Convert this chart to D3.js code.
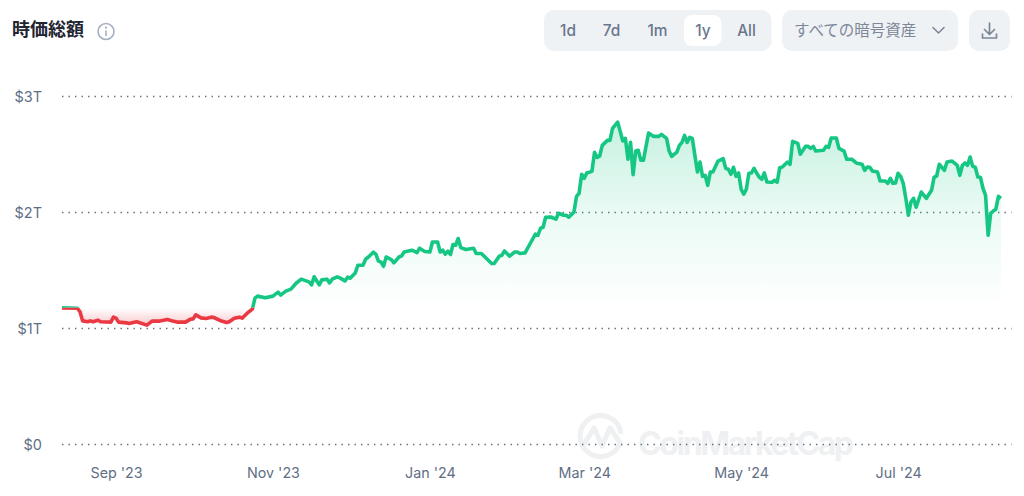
<!DOCTYPE html>
<html>
<head>
<meta charset="utf-8">
<script src="https://cdn.jsdelivr.net/npm/d3@7"></script>
<style>
html, body { margin: 0; padding: 0; background: #fff; overflow: hidden; }
svg { display: block; }
text { font-family: Inter, "Noto Sans CJK JP", sans-serif; }
</style>
</head>
<body>
<svg></svg>
<script>
// days since the first point, market cap in trillions of USD
const startDate = '2023-08-11'
const dayOffsets = [0,6,7,8,10,11,12,14,15,19,20,21,22,25,26,29,33,35,38,41,43,45,48,50,51,52,54,56,58,59,62,64,65,67,69,70,72,74,
	75,76,79,82,84,85,87,89,91,93,96,97,98,100,101,103,104,105,107,108,110,111,112,114,115,117,118,119,121,122,123,124,125,126,128,129,131,132,133,136,138,139,141,143,144,146,147,148,149,150,151,152,153,154,155,157,160,161,163,165,167,168,170,171,172,174,176,177,178,180,182,184,185,186,187,188,190,192,193,195,196,197,199,
	200,201,202,203,204,206,207,208,209,210,212,213,214,216,218,219,220,221,222,223,224,225,226,228,230,232,233,235,236,237,239,240,241,242,243,244,245,247,248,249,250,251,252,253,255,257,258,259,260,261,262,263,264,265,266,267,268,269,270,271,
	272,273,274,276,277,278,279,280,282,283,284,286,287,289,290,291,292,293,296,297,298,299,301,302,304,305,307,309,311,312,313,314,315,317,318,320,321,322,323,324,325,326,327,328,329,330,331,332,334,336,338,339,340,341,343,344,346,348,349,350,351,352,353,354,355,356,357,358,359,360,361,362,363,364,365]
const marketCap = [1.172,1.169,1.138,1.060,1.052,1.060,1.053,1.066,1.052,1.049,1.092,1.083,1.049,1.043,1.038,1.052,1.023,1.058,1.058,1.072,1.058,1.049,1.049,1.075,1.077,1.112,1.086,1.081,1.092,1.089,1.058,1.046,1.052,1.083,1.092,1.083,1.126,1.161,
	1.255,1.273,1.258,1.273,1.307,1.281,1.316,1.333,1.384,1.419,1.396,1.370,1.439,1.370,1.413,1.419,1.387,1.419,1.439,1.430,1.404,1.436,1.427,1.473,1.539,1.539,1.591,1.608,1.651,1.634,1.574,1.567,1.530,1.610,1.588,1.559,1.610,1.619,1.653,1.668,1.648,1.685,1.657,1.653,1.739,1.739,1.653,1.668,1.634,1.660,1.631,1.717,1.711,1.769,1.691,1.674,1.685,1.640,1.640,1.597,1.554,1.554,1.617,1.625,1.662,1.617,1.653,1.653,1.640,1.645,1.726,1.806,1.797,1.857,1.866,1.952,1.954,1.935,1.986,1.969,1.969,1.952,1.997,
	2.132,2.158,2.322,2.287,2.333,2.347,2.511,2.468,2.479,2.571,2.614,2.614,2.717,2.771,2.608,2.631,2.451,2.597,2.319,2.522,2.528,2.442,2.442,2.677,2.648,2.648,2.665,2.631,2.522,2.476,2.513,2.571,2.597,2.657,2.597,2.640,2.631,2.341,2.427,2.304,2.313,2.227,2.341,2.341,2.436,2.457,2.373,2.365,2.322,2.382,2.304,2.333,2.193,2.150,2.193,2.330,2.333,2.373,2.333,2.298,
	2.279,2.333,2.255,2.253,2.270,2.253,2.379,2.384,2.427,2.408,2.605,2.588,2.494,2.562,2.562,2.545,2.562,2.522,2.528,2.562,2.554,2.634,2.634,2.545,2.522,2.451,2.451,2.416,2.408,2.356,2.384,2.382,2.350,2.341,2.264,2.264,2.244,2.287,2.244,2.247,2.330,2.304,2.244,2.115,1.969,2.083,2.115,2.038,2.169,2.115,2.184,2.298,2.307,2.408,2.356,2.427,2.436,2.399,2.313,2.399,2.419,2.399,2.470,2.390,2.382,2.298,2.296,2.201,2.141,1.797,1.986,2.006,2.021,2.132,2.115]

const yTicks = [0, 1, 2, 3]
const yLabels = ['$0', '$1T', '$2T', '$3T']
const xTicks = ['2023-09-01', '2023-11-01', '2024-01-01', '2024-03-01', '2024-05-01', '2024-07-01']
const xLabels = ["Sep '23", "Nov '23", "Jan '24", "Mar '24", "May '24", "Jul '24"]
const ranges = ['1d', '7d', '1m', '1y', 'All']

const width = 1024, height = 496
const green = '#16c784', red = '#ea3943', grey = '#616e85', panel = '#eff2f5'

const day0 = new Date(startDate + 'T00:00:00Z')
const data = dayOffsets.map((d, i) => ({ date: d3.utcDay.offset(day0, d), value: marketCap[i] }))
const baseline = marketCap[0]

const svg = d3.select('svg').attr('width', width).attr('height', height)
const defs = svg.append('defs')

const scX = d3.scaleUtc()
	.domain(d3.extent(data, d => d.date))
	.range([62, 1001])

const scY = d3.scaleLinear()
	.domain([0, 3])
	.range([444, 95.5])

// watermark sits under everything
const mark = svg.append('g').attr('fill', 'none').attr('stroke', '#eef0f2').attr('stroke-width', 5)
mark.append('path')
	.attr('d', 'M620.5 441 A20.5 20.5 0 1 1 621 434')
mark.append('path')
	.attr('d', 'M583 446 L594 428 L602 446 L610 428 L619 441')
	.attr('stroke-linejoin', 'round').attr('stroke-linecap', 'round')
svg.append('text')
	.attr('x', 638).attr('y', 455)
	.attr('font-size', 32).attr('font-weight', 700)
	.attr('fill', '#eef0f2')
	.attr('textLength', 216)
	.text('CoinMarketCap')

// y axis with dotted grid
const yAxis = d3.axisLeft(scY)
	.tickValues(yTicks)
	.tickFormat((d, i) => yLabels[i])
	.tickSize(0)
	.tickPadding(0)

const gy = svg.append('g').attr('transform', 'translate(42,0.5)').call(yAxis)
gy.select('.domain').remove()
gy.selectAll('text')
	.attr('font-size', 14.5).attr('fill', grey).attr('font-family', 'Inter').attr('dy', '0.36em')

svg.append('g').selectAll('line')
	.data(yTicks).enter().append('line')
	.attr('x1', 62).attr('x2', 1011.5)
	.attr('y1', d => Math.round(scY(d)) + 0.5)
	.attr('y2', d => Math.round(scY(d)) + 0.5)
	.attr('stroke', '#626b78')
	.attr('stroke-width', 1.4)
	.attr('stroke-dasharray', '1.4 5.1')

// x axis
const xAxis = d3.axisBottom(scX)
	.tickValues(xTicks.map(d => new Date(d + 'T00:00:00Z')))
	.tickFormat((d, i) => xLabels[i])
	.tickSize(0)
	.tickPadding(0)

const gx = svg.append('g').attr('transform', 'translate(0,468)').call(xAxis)
gx.select('.domain').remove()
gx.selectAll('text')
	.attr('font-size', 14.3).attr('fill', grey).attr('font-family', 'Inter')

// gradients and clips around the baseline (first value)
const topY = scY(d3.max(marketCap)), baseY = scY(baseline), lowY = scY(d3.min(marketCap))

const gradUp = defs.append('linearGradient').attr('id', 'up')
	.attr('gradientUnits', 'userSpaceOnUse')
	.attr('x1', 0).attr('x2', 0).attr('y1', topY).attr('y2', baseY)
gradUp.append('stop').attr('offset', 0).attr('stop-color', green).attr('stop-opacity', 0.24)
gradUp.append('stop').attr('offset', 0.5).attr('stop-color', green).attr('stop-opacity', 0.09)
gradUp.append('stop').attr('offset', 1).attr('stop-color', green).attr('stop-opacity', 0)

const gradDown = defs.append('linearGradient').attr('id', 'down')
	.attr('gradientUnits', 'userSpaceOnUse')
	.attr('x1', 0).attr('x2', 0).attr('y1', lowY).attr('y2', baseY)
gradDown.append('stop').attr('offset', 0).attr('stop-color', red).attr('stop-opacity', 0.27)
gradDown.append('stop').attr('offset', 1).attr('stop-color', red).attr('stop-opacity', 0)

defs.append('clipPath').attr('id', 'above').append('rect')
	.attr('x', 0).attr('y', 0).attr('width', width).attr('height', baseY)
defs.append('clipPath').attr('id', 'below').append('rect')
	.attr('x', 0).attr('y', baseY).attr('width', width).attr('height', height - baseY)

const lineMkr = d3.line().x(d => scX(d.date)).y(d => scY(d.value))
const areaMkr = d3.area().x(d => scX(d.date)).y0(baseY).y1(d => scY(d.value))

svg.append('path').attr('d', areaMkr(data)).attr('fill', 'url(#up)').attr('clip-path', 'url(#above)')
svg.append('path').attr('d', areaMkr(data)).attr('fill', 'url(#down)').attr('clip-path', 'url(#below)')

const sides = [['above', green], ['below', red]]
svg.append('g').selectAll('path')
	.data(sides).enter().append('path')
	.attr('d', lineMkr(data))
	.attr('fill', 'none')
	.attr('stroke', d => d[1])
	.attr('stroke-width', 3.6)
	.attr('stroke-linejoin', 'round')
	.attr('clip-path', d => `url(#${d[0]})`)

// header
svg.append('text')
	.attr('x', 12).attr('y', 36)
	.attr('font-size', 18).attr('font-weight', 700).attr('fill', '#222531')
	.attr('font-family', '"Noto Sans CJK JP"')
	.text('時価総額')

const info = svg.append('g').attr('transform', 'translate(106,31.5)')
info.append('circle').attr('r', 8).attr('fill', 'none').attr('stroke', '#a6b0c3').attr('stroke-width', 1.6)
info.append('line').attr('y1', -1).attr('y2', 4.5).attr('stroke', '#a6b0c3').attr('stroke-width', 1.6)
info.append('circle').attr('cy', -3.8).attr('r', 1.1).attr('fill', '#a6b0c3')

svg.append('rect').attr('x', 544).attr('y', 10).attr('width', 227.5).attr('height', 41).attr('rx', 10).attr('fill', panel)
svg.append('rect').attr('x', 684).attr('y', 15).attr('width', 37.5).attr('height', 31).attr('rx', 8).attr('fill', '#fff')

const rangeX = d3.scaleOrdinal().domain(ranges).range([568, 611.5, 657.5, 703, 746.5])
svg.append('g').selectAll('text')
	.data(ranges).enter().append('text')
	.attr('x', d => rangeX(d)).attr('y', 36)
	.attr('text-anchor', 'middle')
	.attr('font-size', 15.4).attr('font-weight', 500).attr('fill', '#6a768c')
	.text(d => d)

svg.append('rect').attr('x', 782).attr('y', 10).attr('width', 176).attr('height', 41).attr('rx', 10).attr('fill', panel)
svg.append('text')
	.attr('x', 794).attr('y', 35.5)
	.attr('font-size', 15.5).attr('fill', '#7d8798')
	.attr('font-family', '"Noto Sans CJK JP"')
	.text('すべての暗号資産')
svg.append('path').attr('d', 'M933 27.5 L938.5 33 L944 27.5')
	.attr('fill', 'none').attr('stroke', '#7d8798').attr('stroke-width', 1.6).attr('stroke-linecap', 'round').attr('stroke-linejoin', 'round')

svg.append('rect').attr('x', 969).attr('y', 10).attr('width', 41).attr('height', 41).attr('rx', 10).attr('fill', panel)
svg.append('path').attr('d', 'M989.5 23 V34 M984.5 29.5 L989.5 34.5 L994.5 29.5 M982.5 34 V38 H996.5 V34')
	.attr('fill', 'none').attr('stroke', '#7d8798').attr('stroke-width', 1.7).attr('stroke-linecap', 'round').attr('stroke-linejoin', 'round')
</script>
</body>
</html>
